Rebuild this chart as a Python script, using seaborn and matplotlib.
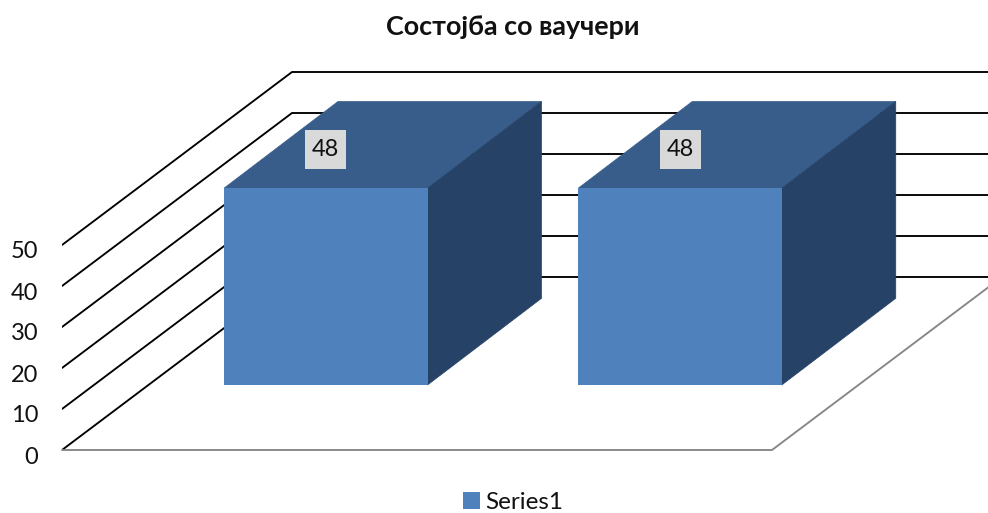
import matplotlib
matplotlib.use("Agg")
import matplotlib.pyplot as plt
from matplotlib.patches import Polygon, Rectangle
from matplotlib.transforms import ScaledTranslation
import seaborn as sns

categories = ["1", "2"]
values = [48, 48]
tick_values = [0, 10, 20, 30, 40, 50]
title = "Состојба со ваучери"
series_name = "Series1"

FRONT = "#4F81BD"
TOP = "#385D8A"
SIDE = "#264266"

sns.set_style("white")
plt.rcParams["font.family"] = ["Lato", "Open Sans"]

W, H = 988, 513
fig = plt.figure(figsize=(W / 100, H / 100), dpi=100)
# axes runs from the front corner of the floor to the top right of the figure
ax = fig.add_axes([62 / W, (H - 450) / H, (W - 62) / W, 450 / H])

sns.barplot(x=categories, y=values, color=FRONT, saturation=1, width=0.5745,
            label=series_name, linewidth=0, ax=ax)

# pixel scales of the picture
px_x = 354.25
px_y = 4.1
x0 = -(325.75 - 62) / px_x
x1 = (988 - 325.75) / px_x
floor = -65 / px_y
ax.set_xlim(x0, x1)
ax.set_ylim(floor, 450 / px_y + floor)

# wall and floor depth, bar depth
wall_dx, wall_dy = 230 / px_x, 173 / px_y
bar_dx, bar_dy = 114 / px_x, 86.7 / px_y

for v in tick_values:
    y = floor + v
    ax.plot([x0, x0 + wall_dx, x1 + 1], [y, y + wall_dy, y + wall_dy],
            color="black", lw=1.35, zorder=1, solid_joinstyle="miter")

floor_right = (772 - 325.75) / px_x
ax.plot([x0, floor_right, floor_right + wall_dx], [floor, floor, floor + wall_dy],
        color="#868686", lw=1.35, zorder=2, clip_on=False, solid_joinstyle="miter")

for patch, v in zip(ax.containers[0], values):
    patch.set_zorder(5)
    left, right = patch.get_x(), patch.get_x() + patch.get_width()
    ax.add_patch(Polygon([(left, v), (right, v), (right + bar_dx, v + bar_dy), (left + bar_dx, v + bar_dy)],
                         closed=True, fc=TOP, ec=TOP, lw=0.5, zorder=4))
    ax.add_patch(Polygon([(right, 0), (right + bar_dx, bar_dy), (right + bar_dx, v + bar_dy), (right, v)],
                         closed=True, fc=SIDE, ec=SIDE, lw=0.5, zorder=4))
    cx = (left + right) / 2
    ax.add_patch(Rectangle((cx - 20.5 / px_x, v + 19 / px_y), 41 / px_x, 39 / px_y,
                           fc="#D9D9D9", ec="none", zorder=6))
    ax.text(cx, v + 41 / px_y, str(v), ha="center", va="center_baseline",
            fontsize=17, color="#111111", zorder=7)

ax.set_xticks([])
ax.set_yticks([floor + v for v in tick_values], labels=[str(v) for v in tick_values])
ax.tick_params(axis="y", length=0, pad=17, labelsize=17, labelcolor="#111111")
for label in ax.get_yticklabels():
    label.set_transform(label.get_transform() + ScaledTranslation(0, -5 / 100, fig.dpi_scale_trans))
sns.despine(ax=ax, left=True, bottom=True, top=True, right=True)
ax.set_ylabel("")
ax.patch.set_alpha(0)

fig.text(513 / W, 1 - 27 / H, title, ha="center", va="center",
         fontsize=19.4, fontweight="bold", color="#111111")

if ax.get_legend() is not None:
    ax.get_legend().remove()
fig.legend([ax.containers[0]], [series_name], loc="center", bbox_to_anchor=(513.5 / W, 1 - 502.5 / H),
           frameon=False, fontsize=17.5, handlelength=0.7, handleheight=0.7,
           handletextpad=0.22, labelcolor="#111111", borderpad=0)

fig.savefig("out.png", dpi=100)
